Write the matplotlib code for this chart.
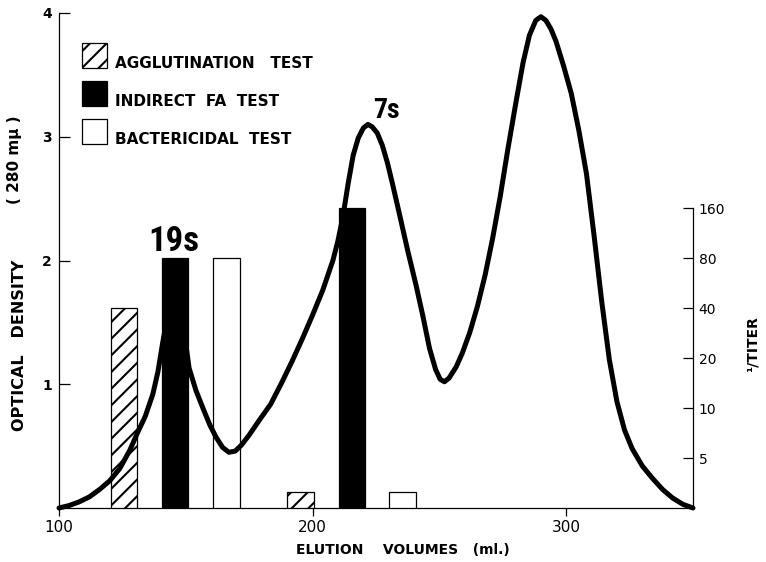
import numpy as np
import matplotlib
matplotlib.use("Agg")
import matplotlib.pyplot as plt
from matplotlib import font_manager
from matplotlib.patches import Rectangle

# ---------------- data ----------------
elution_ml = [100, 104, 108, 112, 116, 120, 124, 128, 131, 134,
              137, 139, 141, 143.5, 146, 148.5, 151.3, 154, 156.7, 159.5,
              162, 164.5, 167, 169.5, 172, 175, 179, 183.5, 188, 192,
              196, 200, 204, 208, 210, 212, 214, 216, 218, 220,
              221.8, 223.5, 225.5, 227.5, 229.5, 231.5, 234.3, 237.5, 240.8, 243.5,
              246.1, 248.5, 250.3, 252, 253.8, 256.6, 259, 262, 265, 268,
              271, 274, 277, 280.2, 283, 285.5, 288, 290, 292, 294,
              296, 299, 302, 305, 308, 311, 314, 317, 320, 323,
              326, 330, 334, 338, 342, 346, 350]
optical_density = [0.0, 0.02, 0.05, 0.09, 0.15, 0.22, 0.32, 0.47, 0.61, 0.74,
                   0.92, 1.10, 1.35, 1.62, 1.75, 1.55, 1.13, 0.95, 0.81, 0.67,
                   0.57, 0.49, 0.45, 0.46, 0.51, 0.59, 0.71, 0.84, 1.02, 1.19,
                   1.37, 1.56, 1.76, 2.00, 2.16, 2.36, 2.62, 2.85, 2.99, 3.07,
                   3.10, 3.08, 3.03, 2.93, 2.79, 2.62, 2.37, 2.08, 1.80, 1.55,
                   1.29, 1.12, 1.04, 1.02, 1.05, 1.14, 1.25, 1.42, 1.63, 1.88,
                   2.18, 2.52, 2.90, 3.28, 3.60, 3.82, 3.94, 3.97, 3.94, 3.87,
                   3.77, 3.57, 3.35, 3.05, 2.70, 2.20, 1.67, 1.20, 0.86, 0.63,
                   0.48, 0.34, 0.24, 0.15, 0.08, 0.03, 0.0]

agglutination_ml = [125.6, 195.3]
agglutination_titer = [40, 3.1]
indirect_fa_ml = [145.8, 215.5]
indirect_fa_titer = [80, 160]
bactericidal_ml = [166.0, 235.5]
bactericidal_titer = [80, 3.1]

titer_ticks = [5, 10, 20, 40, 80, 160]
od_ticks = [1, 2, 3, 4]
volume_ticks = [100, 200, 300]

legend_labels = ["AGGLUTINATION   TEST", "INDIRECT  FA  TEST", "BACTERICIDAL  TEST"]
peak_labels = ["19s", "7s"]
peak_label_ml = [145.3, 229.0]
peak_label_od = [2.08, 3.15]
peak_label_size = [25, 20]


def titer_level(t):
    # right axis: one step per two-fold dilution, 5 -> 1, 10 -> 2, ... 160 -> 6
    return np.log2(np.asarray(t, dtype=float) / 2.5)


available = {f.name for f in font_manager.fontManager.ttflist}
narrow = next((n for n in ['Liberation Sans Narrow', 'DejaVu Sans Condensed',
                           'Roboto Condensed', 'Open Sans Condensed']
               if n in available), 'DejaVu Sans')

plt.rcParams['font.family'] = ['DejaVu Sans']
plt.rcParams['hatch.linewidth'] = 1.5

W, H = 766, 562
AX_L, AX_R, AX_T, AX_B = 59, 693, 13, 508
fig = plt.figure(figsize=(W / 100, H / 100), dpi=100)
ax = fig.add_axes([AX_L / W, (H - AX_B) / H, (AX_R - AX_L) / W, (AX_B - AX_T) / H])
ax2 = ax.twinx()

bar_styles = {
    'agg': dict(facecolor='white', edgecolor='black', hatch='//', linewidth=0.9),
    'fa': dict(facecolor='black', edgecolor='black', linewidth=0.9),
    'bact': dict(facecolor='white', edgecolor='black', linewidth=0.9),
}

ax2.bar(agglutination_ml, titer_level(agglutination_titer), width=10.5,
        zorder=1, **bar_styles['agg'])
ax2.bar(bactericidal_ml, titer_level(bactericidal_titer), width=10.5,
        zorder=1, **bar_styles['bact'])
ax2.plot(elution_ml, optical_density, transform=ax.transData, color='black',
         lw=3.6, solid_joinstyle='round', solid_capstyle='round',
         zorder=2, clip_on=False)
ax2.bar(indirect_fa_ml, titer_level(indirect_fa_titer), width=10.5,
        zorder=3, **bar_styles['fa'])

ax.set_xlim(100, 350)
ax.set_ylim(0, 4)
ax2.set_ylim(0, 9.9)

for s in ['top', 'right']:
    ax.spines[s].set_visible(False)
for s in ['top', 'left', 'bottom']:
    ax2.spines[s].set_visible(False)
ax2.spines['right'].set_bounds(0, titer_level(titer_ticks[-1]))
for sp in [ax.spines['left'], ax.spines['bottom'], ax2.spines['right']]:
    sp.set_linewidth(0.9)

ax.set_xticks(volume_ticks)
ax.set_xticklabels([str(v) for v in volume_ticks])
ax.set_yticks(od_ticks)
ax.set_yticklabels([str(v) for v in od_ticks])
for lbl in ax.get_yticklabels():
    lbl.set_fontweight('bold')
ax.tick_params(axis='y', direction='in', length=8, width=0.9, pad=5, labelsize=10)
ax.tick_params(axis='x', direction='out', length=6, width=0.9, pad=3, labelsize=11)

ax2.set_yticks(titer_level(titer_ticks))
ax2.set_yticklabels([str(t) for t in titer_ticks])
ax2.tick_params(axis='y', direction='in', length=7, width=0.9, pad=4, labelsize=10)

# legend: key boxes with the label baseline at the bottom of each box
def ax_frac(px, py):
    return (px - AX_L) / (AX_R - AX_L), (AX_B - py) / (AX_B - AX_T)

box_tops = [43, 81, 119]
for lab, key, top in zip(legend_labels, ['agg', 'fa', 'bact'], box_tops):
    x0, y0 = ax_frac(82, top + 25)
    ax2.add_patch(Rectangle((x0, y0), 25 / (AX_R - AX_L), 25 / (AX_B - AX_T),
                            transform=ax2.transAxes, clip_on=False, zorder=4,
                            **bar_styles[key]))
    tx, ty = ax_frac(115, top + 25)
    ax2.text(tx, ty, lab, transform=ax2.transAxes, ha='left', va='baseline',
             weight='bold', size=11, zorder=4)

for lab, x, y, sz in zip(peak_labels, peak_label_ml, peak_label_od, peak_label_size):
    ax.text(x, y, lab, ha='center', va='baseline', family=[narrow, 'DejaVu Sans'],
            weight='bold', size=sz, zorder=5)

fig.text(402.5 / W, 1 - 550 / H, "ELUTION    VOLUMES   (ml.)", ha='center',
         va='center', weight='bold', size=10)
fig.text(20 / W, 1 - 345 / H, "OPTICAL   DENSITY", rotation=90, ha='center',
         va='center', weight='bold', size=11.5)
fig.text(15 / W, 1 - 160 / H, "( 280 m\u03bc )", rotation=90, ha='center',
         va='center', weight='bold', size=11)
fig.text(753 / W, 1 - 344 / H, "\u00b9/TITER", rotation=90, ha='center',
         va='center', weight='bold', size=10)

fig.savefig("out.png", dpi=100)
